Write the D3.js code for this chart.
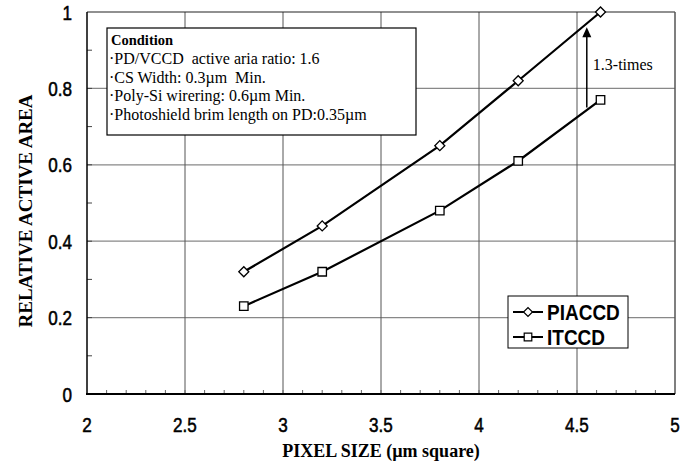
<!DOCTYPE html>
<html>
<head>
<meta charset="utf-8">
<script src="https://cdn.jsdelivr.net/npm/d3@7"></script>
<style>
  body { margin: 0; background: #fff; }
  svg { display: block; }
</style>
</head>
<body>
<div id="chart"></div>
<script>
// data
const pixelSize = [2.8, 3.2, 3.8, 4.2, 4.62];
const piaccd = [0.32, 0.44, 0.65, 0.82, 1.0];
const itccd = [0.23, 0.32, 0.48, 0.61, 0.77];
const xTicks = [2, 2.5, 3, 3.5, 4, 4.5, 5];
const yTicks = [0, 0.2, 0.4, 0.6, 0.8, 1];
const conditionTitle = "Condition";
const conditionLines = [
  "\u00B7PD/VCCD\u00A0\u00A0active aria ratio: 1.6",
  "\u00B7CS Width: 0.3\u00B5m\u00A0\u00A0Min.",
  "\u00B7Poly-Si wirering: 0.6\u00B5m Min.",
  "\u00B7Photoshield brim length on PD:0.35\u00B5m"
];
const arrowX = 4.55, arrowFrom = 0.75, arrowTo = 0.96;
const arrowLabel = "1.3-times";

const width = 695, height = 462;
const margin = {top: 12, right: 20, bottom: 68, left: 87};

const svg = d3.select("#chart").append("svg")
  .attr("width", width)
  .attr("height", height);

const x = d3.scaleLinear().domain([2, 5]).range([margin.left, width - margin.right]);
const y = d3.scaleLinear().domain([0, 1]).range([height - margin.bottom, margin.top]);

const sans = "'Liberation Sans', Arial, sans-serif";
const serif = "'Liberation Serif', 'Times New Roman', serif";

// gridlines
svg.append("g")
  .selectAll("line")
  .data(yTicks.filter(d => d > 0 && d < 1))
  .enter().append("line")
  .attr("x1", x(2)).attr("x2", x(5))
  .attr("y1", d => y(d)).attr("y2", d => y(d))
  .attr("stroke", "#888").attr("stroke-width", 1.2);

svg.append("g")
  .selectAll("line")
  .data(xTicks.filter(d => d > 2 && d < 5))
  .enter().append("line")
  .attr("x1", d => x(d)).attr("x2", d => x(d))
  .attr("y1", y(0)).attr("y2", y(1))
  .attr("stroke", "#555").attr("stroke-width", 1);

// minor ticks (inward)
svg.append("g")
  .selectAll("line")
  .data(d3.range(1, 10).map(i => i / 10))
  .enter().append("line")
  .attr("x1", x(2)).attr("x2", x(2) + 5)
  .attr("y1", d => y(d)).attr("y2", d => y(d))
  .attr("stroke", "#444");

svg.append("g")
  .selectAll("line")
  .data(d3.range(21, 50).map(i => i / 10))
  .enter().append("line")
  .attr("x1", d => x(d)).attr("x2", d => x(d))
  .attr("y1", y(0)).attr("y2", y(0) - 4)
  .attr("stroke", "#666");

// frame
svg.append("line").attr("x1", x(2)).attr("x2", x(5)).attr("y1", y(1)).attr("y2", y(1))
  .attr("stroke", "#222").attr("stroke-width", 1.2);
svg.append("line").attr("x1", x(5)).attr("x2", x(5)).attr("y1", y(1)).attr("y2", y(0))
  .attr("stroke", "#555").attr("stroke-width", 1.5);
svg.append("line").attr("x1", x(2)).attr("x2", x(2)).attr("y1", y(1)).attr("y2", y(0))
  .attr("stroke", "#000").attr("stroke-width", 1.5);
svg.append("line").attr("x1", x(2) - 1).attr("x2", x(5)).attr("y1", y(0)).attr("y2", y(0))
  .attr("stroke", "#000").attr("stroke-width", 2);

// tick labels (tall, slightly condensed digits)
svg.append("g")
  .selectAll("text")
  .data(yTicks)
  .enter().append("text")
  .attr("transform", d => `translate(${x(2) - 15},${y(d)}) scale(0.9,1.1)`)
  .attr("dy", "0.36em")
  .attr("text-anchor", "end")
  .style("font-family", sans)
  .style("font-size", "19px")
  .style("stroke", "#000").style("stroke-width", 0.5)
  .text(d => d3.format("")(d));

svg.append("g")
  .selectAll("text")
  .data(xTicks)
  .enter().append("text")
  .attr("transform", d => `translate(${x(d)},${y(0) + 38}) scale(0.9,1.1)`)
  .attr("text-anchor", "middle")
  .style("font-family", sans)
  .style("font-size", "19px")
  .style("stroke", "#000").style("stroke-width", 0.5)
  .text(d => d3.format("")(d));

// axis titles
svg.append("text")
  .attr("x", (x(2) + x(5)) / 2)
  .attr("y", height - 5)
  .attr("text-anchor", "middle")
  .style("font-family", serif)
  .style("font-weight", "bold")
  .style("font-size", "18px")
  .text("PIXEL SIZE (\u00B5m square)");

svg.append("text")
  .attr("transform", `translate(32, ${(y(0) + y(1)) / 2 + 8}) rotate(-90)`)
  .attr("text-anchor", "middle")
  .style("font-family", serif)
  .style("font-weight", "bold")
  .style("font-size", "19px")
  .text("RELATIVE ACTIVE AREA");

// condition box
const cond = svg.append("g").attr("transform", "translate(107,28)");
cond.append("rect")
  .attr("width", 309).attr("height", 107)
  .attr("fill", "#fff").attr("stroke", "#000").attr("stroke-width", 1.2);
cond.append("text")
  .attr("x", 4).attr("y", 17)
  .style("font-family", serif).style("font-weight", "bold").style("font-size", "14.5px")
  .text(conditionTitle);
cond.selectAll("text.line")
  .data(conditionLines)
  .enter().append("text")
  .attr("class", "line")
  .attr("x", 2)
  .attr("y", (d, i) => 36 + i * 18.5)
  .style("font-family", serif).style("font-size", "16px")
  .text(d => d);

// series
const series = [
  {name: "PIACCD", values: piaccd, symbol: d3.symbolSquare, size: 50, rotate: 45},
  {name: "ITCCD", values: itccd, symbol: d3.symbolSquare, size: 72, rotate: 0}
];

const line = d3.line().x(d => x(d[0])).y(d => y(d[1]));

series.forEach(s => {
  const pts = pixelSize.map((p, i) => [p, s.values[i]]);
  svg.append("path")
    .datum(pts)
    .attr("d", line)
    .attr("fill", "none")
    .attr("stroke", "#000")
    .attr("stroke-width", 2.2);
  svg.append("g")
    .selectAll("path")
    .data(pts)
    .enter().append("path")
    .attr("transform", d => `translate(${x(d[0])},${y(d[1])}) rotate(${s.rotate})`)
    .attr("d", d3.symbol().type(s.symbol).size(s.size))
    .attr("fill", "#fff")
    .attr("stroke", "#000")
    .attr("stroke-width", 1.3);
});

// 1.3-times arrow
svg.append("line")
  .attr("x1", x(arrowX)).attr("x2", x(arrowX))
  .attr("y1", y(arrowFrom)).attr("y2", y(arrowTo) + 8)
  .attr("stroke", "#000").attr("stroke-width", 1.5);
svg.append("path")
  .attr("d", `M${x(arrowX)},${y(arrowTo)} l-4.5,10 h9 z`)
  .attr("fill", "#000");
svg.append("text")
  .attr("x", x(arrowX) + 6)
  .attr("y", y(arrowTo) + 43)
  .style("font-family", serif)
  .style("font-size", "16px")
  .text(arrowLabel);

// legend
const legend = svg.append("g").attr("transform", "translate(508,296)");
legend.append("rect")
  .attr("width", 120).attr("height", 52)
  .attr("fill", "#fff").attr("stroke", "#000").attr("stroke-width", 1);
series.forEach((s, i) => {
  const cy = 16 + i * 25;
  legend.append("line")
    .attr("x1", 5).attr("x2", 35).attr("y1", cy).attr("y2", cy)
    .attr("stroke", "#000").attr("stroke-width", 2);
  legend.append("path")
    .attr("transform", `translate(20,${cy}) rotate(${s.rotate})`)
    .attr("d", d3.symbol().type(s.symbol).size(s.size * 0.8))
    .attr("fill", "#fff").attr("stroke", "#000").attr("stroke-width", 1.2);
  legend.append("text")
    .attr("transform", `translate(39,${cy}) scale(0.95,1.1)`)
    .attr("dy", "0.36em")
    .style("font-family", sans)
    .style("font-weight", "bold")
    .style("font-size", "20px")
    .text(s.name);
});
</script>
</body>
</html>
